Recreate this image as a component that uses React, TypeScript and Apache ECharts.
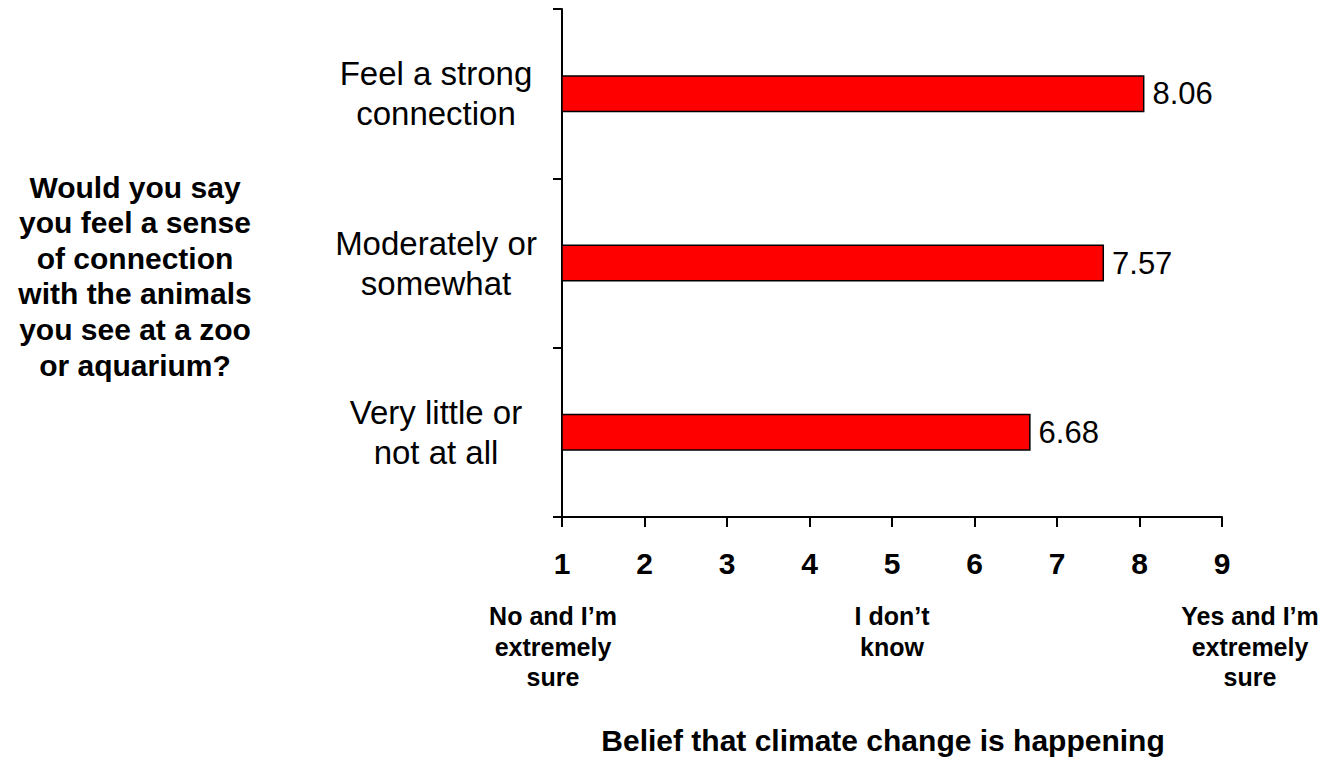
import React, { useEffect, useRef } from "react";
import * as echarts from "echarts";

const categories = ["Feel a strong\nconnection", "Moderately or\nsomewhat", "Very little or\nnot at all"];
const values = [8.06, 7.57, 6.68];
const questionLines = [
  "Would you say",
  "you feel a sense",
  "of connection",
  "with the animals",
  "you see at a zoo",
  "or aquarium?",
];
const scaleAnchors = [
  { value: 1, text: "No and I\u2019m\nextremely\nsure" },
  { value: 5, text: "I don\u2019t\nknow" },
  { value: 9, text: "Yes and I\u2019m\nextremely\nsure" },
];
const axisTitle = "Belief that climate change is happening";

const FONT = "'Liberation Sans', Arial, Helvetica, sans-serif";

export default function App() {
  const ref = useRef<HTMLDivElement>(null);
  useEffect(() => {
    if (!ref.current) return;
    const chart = echarts.init(ref.current, null, { renderer: "svg" });
    const gridLeft = 562;
    const gridRight = 120;
    const width = 1342;
    const plotW = width - gridLeft - gridRight;
    const xOf = (v: number) => gridLeft + ((v - 1) / 8) * plotW;
    chart.setOption({
      animation: false,
      backgroundColor: "#ffffff",
      grid: { left: gridLeft, right: gridRight, top: 9, bottom: 240, containLabel: false },
      xAxis: {
        type: "value",
        min: 1,
        max: 9,
        interval: 1,
        splitLine: { show: false },
        axisLine: { show: true, lineStyle: { color: "#000", width: 2 } },
        axisTick: { show: true, length: 10, lineStyle: { color: "#000", width: 2 } },
        axisLabel: {
          margin: 31,
          color: "#000",
          fontSize: 30,
          fontWeight: "bold",
          fontFamily: FONT,
        },
      },
      yAxis: {
        type: "category",
        inverse: true,
        data: categories,
        axisLine: { show: true, lineStyle: { color: "#000", width: 2 } },
        axisTick: { show: true, length: 9, lineStyle: { color: "#000", width: 2 } },
        axisLabel: {
          margin: 126,
          align: "center",
          color: "#000",
          fontSize: 33,
          lineHeight: 40,
          fontFamily: FONT,
        },
      },
      series: [
        {
          type: "bar",
          data: values,
          barWidth: 37,
          itemStyle: { color: "#ff0000", borderColor: "#000", borderWidth: 1.5 },
          label: {
            show: true,
            position: "right",
            distance: 8,
            color: "#000",
            fontSize: 31,
            fontFamily: FONT,
            formatter: (p: any) => p.value.toFixed(2),
          },
        },
      ],
      graphic: [
        {
          type: "text",
          x: 135,
          y: 276,
          style: {
            text: questionLines.join("\n"),
            font: `bold 30px ${FONT}`,
            lineHeight: 35.6,
            fill: "#000",
            textAlign: "center",
            textVerticalAlign: "middle",
          },
        },
        ...scaleAnchors.map((a) => ({
          type: "text",
          x: a.value === 1 ? 553 : a.value === 9 ? 1250 : xOf(a.value),
          y: 601,
          style: {
            text: a.text,
            font: `bold 25px ${FONT}`,
            lineHeight: 30.5,
            fill: "#000",
            textAlign: "center",
            textVerticalAlign: "top",
          },
        })),
        {
          type: "text",
          x: 883,
          y: 740,
          style: {
            text: axisTitle,
            font: `bold 30px ${FONT}`,
            fill: "#000",
            textAlign: "center",
            textVerticalAlign: "middle",
          },
        },
      ],
    });
    return () => chart.dispose();
  }, []);
  return <div ref={ref} style={{ width: 1342, height: 757, position: "absolute", left: 0, top: 0 }} />;
}
